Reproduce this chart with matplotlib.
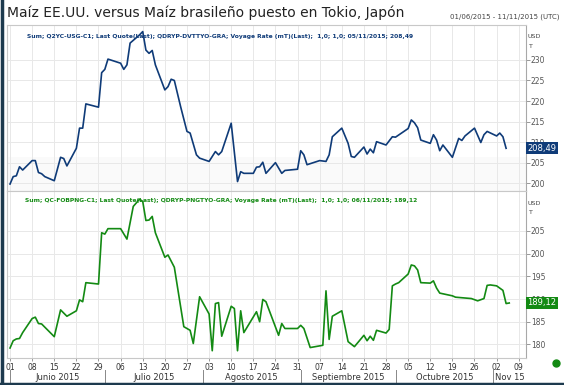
import numpy as np
import pandas as pd
import matplotlib
matplotlib.use("Agg")
import matplotlib.pyplot as plt
import matplotlib.dates as mdates
from matplotlib.transforms import blended_transform_factory
from matplotlib.lines import Line2D

title = "Maíz EE.UU. versus Maíz brasileño puesto en Tokio, Japón"
range_label = "01/06/2015 - 11/11/2015 (UTC)"
us_header = "Sum; Q2YC-USG-C1; Last Quote(Last); QDRYP-DVTTYO-GRA; Voyage Rate (mT)(Last);  1,0; 1,0; 05/11/2015; 208,49"
br_header = "Sum; QC-FOBPNG-C1; Last Quote(Last); QDRYP-PNGTYO-GRA; Voyage Rate (mT)(Last);  1,0; 1,0; 06/11/2015; 189,12"

# US corn delivered Tokyo (USD/t)
us_dates = ["06-01", "06-02", "06-03", "06-04", "06-05", "06-08", "06-09", "06-10", "06-11", "06-12",
            "06-15", "06-17", "06-18", "06-19", "06-22", "06-23", "06-24", "06-25", "06-29", "06-30",
            "07-01", "07-02", "07-06", "07-07", "07-08", "07-09", "07-12", "07-13", "07-14", "07-15",
            "07-16", "07-17", "07-20", "07-21", "07-22", "07-23", "07-25", "07-27", "07-28", "07-30",
            "07-31", "08-03", "08-05", "08-06", "08-07", "08-10", "08-12", "08-13", "08-14", "08-17",
            "08-18", "08-19", "08-20", "08-21", "08-24", "08-26", "08-27", "08-31", "09-01", "09-02",
            "09-03", "09-07", "09-09", "09-10", "09-11", "09-14", "09-16", "09-17", "09-18", "09-21",
            "09-22", "09-23", "09-24", "09-25", "09-28", "09-30", "10-01", "10-05", "10-06", "10-07",
            "10-08", "10-09", "10-12", "10-13", "10-14", "10-15", "10-16", "10-19", "10-21", "10-22",
            "10-23", "10-26", "10-28", "10-29", "10-30", "11-02", "11-03", "11-04", "11-05"]
us_values = [199.8, 201.6, 201.8, 204.0, 203.2, 205.5, 205.5, 202.6, 202.3, 201.6,
             200.6, 206.3, 206.0, 204.2, 208.5, 213.4, 213.4, 219.3, 218.5, 226.9,
             227.7, 230.2, 229.2, 227.7, 228.8, 234.1, 236.1, 236.9, 232.4, 231.6,
             232.3, 228.8, 222.7, 223.5, 225.3, 225.0, 218.6, 212.6, 212.2, 206.9,
             206.1, 205.3, 207.7, 206.9, 207.7, 214.6, 200.4, 202.8, 202.4, 202.4,
             203.9, 204.0, 205.1, 202.4, 205.0, 202.4, 203.1, 203.4, 207.9, 206.9,
             204.5, 205.5, 205.3, 206.9, 211.3, 213.4, 209.7, 206.5, 206.3, 208.8,
             207.1, 208.3, 207.4, 210.1, 209.3, 211.3, 211.2, 213.3, 215.4, 214.7,
             213.5, 210.5, 209.7, 211.8, 210.5, 207.9, 209.3, 206.3, 210.9, 210.4,
             211.5, 213.4, 209.9, 211.8, 212.6, 211.5, 212.2, 211.3, 208.49]

# Brazilian corn delivered Tokyo (USD/t)
br_dates = ["06-01", "06-02", "06-03", "06-04", "06-05", "06-08", "06-09", "06-10", "06-11", "06-15",
            "06-17", "06-19", "06-22", "06-23", "06-24", "06-25", "06-29", "06-30", "07-01", "07-02",
            "07-06", "07-08", "07-10", "07-12", "07-13", "07-14", "07-15", "07-16", "07-17", "07-20",
            "07-21", "07-23", "07-26", "07-28", "07-29", "07-31", "08-03", "08-04", "08-05", "08-06",
            "08-07", "08-10", "08-11", "08-12", "08-13", "08-14", "08-18", "08-19", "08-20", "08-21",
            "08-25", "08-26", "08-27", "08-31", "09-01", "09-02", "09-04", "09-08", "09-09", "09-10",
            "09-11", "09-14", "09-16", "09-18", "09-21", "09-22", "09-23", "09-24", "09-25", "09-28",
            "09-29", "09-30", "10-01", "10-02", "10-05", "10-06", "10-07", "10-08", "10-09", "10-12",
            "10-13", "10-14", "10-15", "10-19", "10-20", "10-25", "10-27", "10-29", "10-30", "10-31",
            "11-02", "11-04", "11-05", "11-06"]
br_values = [179.2, 180.8, 181.2, 181.3, 182.6, 185.7, 186.0, 184.6, 184.5, 181.7,
             187.6, 186.2, 187.4, 189.8, 189.4, 193.6, 193.3, 204.6, 204.3, 205.5,
             205.5, 203.2, 210.4, 212.0, 211.5, 207.3, 207.4, 208.2, 204.6, 199.2,
             199.7, 197.0, 183.9, 183.1, 180.2, 190.5, 186.7, 178.6, 189.0, 189.2,
             181.8, 188.4, 187.9, 178.6, 187.4, 182.6, 187.2, 185.0, 189.9, 189.4,
             182.0, 184.6, 183.5, 183.5, 184.2, 183.5, 179.3, 179.8, 191.8, 181.1,
             186.2, 187.4, 180.6, 179.5, 182.0, 180.8, 181.8, 180.9, 183.1, 182.5,
             183.3, 192.9, 193.3, 193.6, 195.5, 197.5, 197.3, 196.4, 193.6, 193.5,
             194.0, 192.4, 191.3, 190.7, 190.4, 190.1, 189.6, 190.1, 193.0, 193.1,
             192.9, 191.9, 189.0, 189.12]

us_ticks = [200, 205, 210, 215, 220, 225, 230]
br_ticks = [180, 185, 190, 195, 200, 205]
months = ["Junio 2015", "Julio 2015", "Agosto 2015", "Septiembre 2015", "Octubre 2015", "Nov 15"]

navy = "#0f3b78"
green = "#138a13"
grid_c = "#e8e8e8"
spine_c = "#c8c8c8"

us_x = pd.to_datetime(["2015-" + d for d in us_dates])
br_x = pd.to_datetime(["2015-" + d for d in br_dates])

start = pd.Timestamp("2015-06-01")
x0 = start - pd.Timedelta(hours=23)
x1 = start + pd.Timedelta(days=163.3)
weeks = pd.date_range("2015-06-01", "2015-11-09", freq="7D")
month_starts = pd.to_datetime(["2015-06-01", "2015-07-01", "2015-08-01", "2015-09-01",
                               "2015-10-01", "2015-11-01"])

fig = plt.figure(figsize=(5.64, 3.85), dpi=100)
W, H = 564.0, 385.0

ax1 = fig.add_axes([7 / W, 1 - 191 / H, 519 / W, 166 / H])
ax2 = fig.add_axes([7 / W, 1 - 358 / H, 519 / W, 167 / H])


def style(ax, ticks, ylim):
    ax.set_xlim(x0, x1)
    ax.set_ylim(*ylim)
    ax.set_xticks(weeks)
    ax.set_yticks(ticks)
    ax.yaxis.tick_right()
    ax.tick_params(axis="y", direction="out", length=3, width=0.6, color="#888888",
                   labelsize=5.5, labelcolor="#555555", pad=0.5)
    ax.grid(True, color=grid_c, linewidth=0.7)
    ax.set_axisbelow(True)
    for s in ax.spines.values():
        s.set_color(spine_c)
        s.set_linewidth(0.8)
    ax.spines["right"].set_color("#a8a8a8")


style(ax1, us_ticks, (198.1, 238.5))
style(ax2, br_ticks, (177.0, 213.8))

ax1.tick_params(axis="x", length=0, labelbottom=False)
ax2.xaxis.set_major_formatter(mdates.DateFormatter("%d"))
ax2.tick_params(axis="x", direction="out", length=2, width=0.6, color="#888888",
                labelsize=5.5, labelcolor="#333333", pad=1.5)

ax1.axhspan(198.1, 206.4, color="#fafafa", zorder=0, lw=0)

ax1.plot(us_x, us_values, color=navy, lw=1.2, zorder=3)
ax2.plot(br_x, br_values, color=green, lw=1.2, zorder=3)

# panel headers
ax1.text(20 / 519, 1 - 11 / 166, us_header, transform=ax1.transAxes, fontsize=4.35,
         color=navy, ha="left", va="center", fontweight="bold")
ax2.text(18 / 519, 1 - 9 / 167, br_header, transform=ax2.transAxes, fontsize=4.35,
         color=green, ha="left", va="center", fontweight="bold")

# unit labels
for ax, ytop in [(ax1, 37), (ax2, 204)]:
    fig.text(528 / W, 1 - ytop / H, "USD", fontsize=4.6, color="#444444", ha="left", va="center")
    fig.text(528 / W, 1 - (ytop + 9) / H, "T", fontsize=4.6, color="#444444", ha="left", va="center")

# last value boxes
for ax, val, col in [(ax1, us_values[-1], navy), (ax2, br_values[-1], green)]:
    tr = blended_transform_factory(ax.transAxes, ax.transData)
    ax.text(1.003, val, f"{val:.2f}".replace(".", ","), transform=tr, fontsize=6,
            color="white", ha="left", va="center", clip_on=False, zorder=10,
            bbox=dict(boxstyle="square,pad=0.2", fc=col, ec="none"))

# month labels + separators below bottom panel
trm = blended_transform_factory(ax2.transData, fig.transFigure)
edges = list(month_starts) + [x1]
for i, m in enumerate(months):
    a, b = edges[i], edges[i + 1]
    mid = a + (b - a) / 2
    ax2.text(mid, 1 - 378 / H, m, transform=trm, fontsize=6, color="#333333",
             ha="center", va="center", clip_on=False)
for d in month_starts:
    ax2.add_line(Line2D([d, d], [1 - 370 / H, 1 - 384 / H], transform=trm, color="#888888",
                        lw=0.7, clip_on=False))

# title and range
fig.text(7 / W, 1 - 13 / H, title, fontsize=10, color="#222222", ha="left", va="center")
fig.text(559 / W, 1 - 17 / H, range_label, fontsize=5, color="#444444", ha="right", va="center")

# status dot
fig.add_artist(Line2D([556 / W], [1 - 363 / H], marker="o", markersize=5, color=green,
                      transform=fig.transFigure))

# outer frame (left and bottom dark border)
fig.add_artist(Line2D([1.5 / W, 1.5 / W], [0, 1], color="#1d3a4e", lw=2.5, transform=fig.transFigure))
fig.add_artist(Line2D([0, 1], [1.5 / H, 1.5 / H], color="#1d3a4e", lw=2.5, transform=fig.transFigure))

fig.savefig("out.png", dpi=100)
